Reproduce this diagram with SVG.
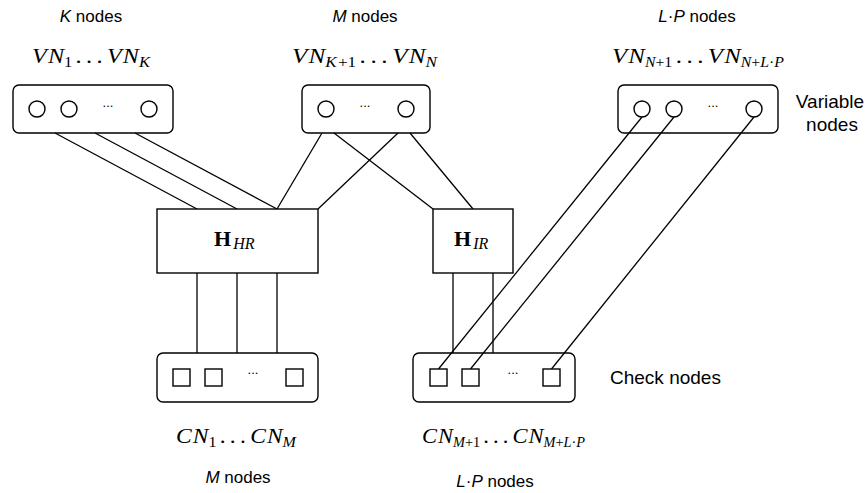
<svg xmlns="http://www.w3.org/2000/svg" width="867" height="493" viewBox="0 0 867 493">
  <style>
    .box { fill: none; stroke: #000; stroke-width: 1.4; }
    .blk { fill: #fff; stroke: #000; stroke-width: 1.4; }
    .vn { fill: #fff; stroke: #000; stroke-width: 1.4; }
    .cn { fill: #fff; stroke: #000; stroke-width: 1.4; }
    .edge { stroke: #000; stroke-width: 1.3; fill: none; }
    .lbl { font-family: "Liberation Sans", Arial, sans-serif; font-size: 17px; fill: #000; }
    .lbl-r { font-size: 19px; }
    .it { font-style: italic; }
    .math { font-family: "Liberation Serif", "Times New Roman", serif; font-size: 22px; font-style: italic; fill: #000; }
    .up { font-style: normal; }
    .ld { font-style: normal; letter-spacing: 4px; }
    .bold { font-style: normal; font-weight: bold; }
    .dots { font-family: "Liberation Sans", Arial, sans-serif; font-size: 13px; fill: #000; text-anchor: middle; }
  </style>

  <!-- edges between node groups and parity-check blocks -->
  <g id="connectors" class="edge">
    <line x1="55" y1="133" x2="197" y2="209"/>
    <line x1="95" y1="133" x2="237" y2="209"/>
    <line x1="135" y1="133" x2="277" y2="209"/>
    <line x1="322" y1="133" x2="277" y2="209"/>
    <line x1="334" y1="133" x2="433" y2="209"/>
    <line x1="398" y1="133" x2="318" y2="209"/>
    <line x1="410" y1="133" x2="473" y2="209"/>
    <line x1="197" y1="273" x2="197" y2="353"/>
    <line x1="237" y1="273" x2="237" y2="353"/>
    <line x1="277" y1="273" x2="277" y2="353"/>
    <line x1="453" y1="273" x2="453" y2="353"/>
    <line x1="493" y1="273" x2="493" y2="353"/>
    <line x1="642" y1="117" x2="438.5" y2="369"/>
    <line x1="674" y1="117" x2="470.5" y2="369"/>
    <line x1="754" y1="117" x2="551.5" y2="369"/>
  </g>

  <!-- variable nodes VN_1 ... VN_K -->
  <g id="vn-k">
    <text class="lbl" x="91" y="22" text-anchor="middle"><tspan class="it">K</tspan> nodes</text>
    <text class="math" x="32" y="63" textLength="118" lengthAdjust="spacingAndGlyphs">V<tspan dx="1">N</tspan><tspan class="up" font-size="15" dy="4">1</tspan><tspan class="ld" dx="3" dy="-4">...</tspan>V<tspan dx="1">N</tspan><tspan font-size="15" dy="4">K</tspan></text>
    <rect class="box" x="13" y="85" width="160" height="48" rx="6"/>
    <circle class="vn" cx="37" cy="109" r="8"/>
    <circle class="vn" cx="69" cy="109" r="8"/>
    <text class="dots" x="108" y="107">...</text>
    <circle class="vn" cx="149" cy="109" r="8"/>
  </g>

  <!-- variable nodes VN_{K+1} ... VN_N -->
  <g id="vn-m">
    <text class="lbl" x="365" y="22" text-anchor="middle"><tspan class="it">M</tspan> nodes</text>
    <text class="math" x="292" y="63" textLength="145" lengthAdjust="spacingAndGlyphs">V<tspan dx="1">N</tspan><tspan font-size="15" dy="4">K</tspan><tspan class="up" font-size="15" dx="1">+1</tspan><tspan class="ld" dx="3" dy="-4">...</tspan>V<tspan dx="1">N</tspan><tspan font-size="15" dy="4">N</tspan></text>
    <rect class="box" x="302" y="85" width="128" height="48" rx="6"/>
    <circle class="vn" cx="326" cy="109" r="8"/>
    <text class="dots" x="365" y="107">...</text>
    <circle class="vn" cx="406" cy="109" r="8"/>
  </g>

  <!-- variable nodes VN_{N+1} ... VN_{N+L·P} -->
  <g id="vn-lp">
    <text class="lbl" x="697" y="22" text-anchor="middle"><tspan class="it">L</tspan>·<tspan class="it">P</tspan> nodes</text>
    <text class="math" x="612" y="63" textLength="172" lengthAdjust="spacingAndGlyphs">V<tspan dx="1">N</tspan><tspan font-size="14" dy="4">N</tspan><tspan class="up" font-size="14">+1</tspan><tspan class="ld" dx="3" dy="-4">...</tspan>V<tspan dx="1">N</tspan><tspan font-size="14" dy="4">N</tspan><tspan class="up" font-size="14">+</tspan><tspan font-size="14">L</tspan><tspan class="up" font-size="14">·</tspan><tspan font-size="14">P</tspan></text>
    <rect class="box" x="618" y="85" width="160" height="48" rx="6"/>
    <circle class="vn" cx="642" cy="109" r="8"/>
    <circle class="vn" cx="674" cy="109" r="8"/>
    <text class="dots" x="713" y="107">...</text>
    <circle class="vn" cx="754" cy="109" r="8"/>
    <text class="lbl lbl-r" x="830" y="108" text-anchor="middle">Variable</text>
    <text class="lbl lbl-r" x="832" y="131" text-anchor="middle">nodes</text>
  </g>

  <!-- parity-check block H_HR -->
  <g id="h-hr">
    <rect class="blk" x="157" y="209" width="161" height="64"/>
    <text class="math" x="214" y="246"><tspan class="bold" font-size="22">H</tspan><tspan font-size="16" dx="2" dy="3">HR</tspan></text>
  </g>

  <!-- parity-check block H_IR -->
  <g id="h-ir">
    <rect class="blk" x="433" y="209" width="80" height="64"/>
    <text class="math" x="454" y="246"><tspan class="bold" font-size="22">H</tspan><tspan font-size="16" dx="2" dy="3">IR</tspan></text>
  </g>

  <!-- check nodes CN_1 ... CN_M -->
  <g id="cn-m">
    <rect class="box" x="157" y="353" width="161" height="49" rx="6"/>
    <rect class="cn" x="173" y="369" width="17" height="17"/>
    <rect class="cn" x="205" y="369" width="17" height="17"/>
    <text class="dots" x="253" y="374">...</text>
    <rect class="cn" x="286" y="369" width="17" height="17"/>
    <text class="math" x="176" y="443" textLength="120" lengthAdjust="spacingAndGlyphs">C<tspan dx="1">N</tspan><tspan class="up" font-size="15" dy="4">1</tspan><tspan class="ld" dx="3" dy="-4">...</tspan>C<tspan dx="1">N</tspan><tspan font-size="15" dy="4">M</tspan></text>
    <text class="lbl" x="238" y="483" text-anchor="middle"><tspan class="it">M</tspan> nodes</text>
  </g>

  <!-- check nodes CN_{M+1} ... CN_{M+L·P} -->
  <g id="cn-lp">
    <rect class="box" x="413" y="353" width="162" height="49" rx="6"/>
    <rect class="cn" x="430" y="369" width="17" height="17"/>
    <rect class="cn" x="462" y="369" width="17" height="17"/>
    <text class="dots" x="513" y="374">...</text>
    <rect class="cn" x="543" y="369" width="17" height="17"/>
    <text class="lbl lbl-r" x="610" y="384">Check nodes</text>
    <text class="math" x="422" y="443" textLength="163" lengthAdjust="spacingAndGlyphs">C<tspan dx="1">N</tspan><tspan font-size="14" dy="4">M</tspan><tspan class="up" font-size="14">+1</tspan><tspan class="ld" dx="3" dy="-4">...</tspan>C<tspan dx="1">N</tspan><tspan font-size="14" dy="4">M</tspan><tspan class="up" font-size="14">+</tspan><tspan font-size="14">L</tspan><tspan class="up" font-size="14">·</tspan><tspan font-size="14">P</tspan></text>
    <text class="lbl" x="495" y="487" text-anchor="middle"><tspan class="it">L</tspan>·<tspan class="it">P</tspan> nodes</text>
  </g>
</svg>
